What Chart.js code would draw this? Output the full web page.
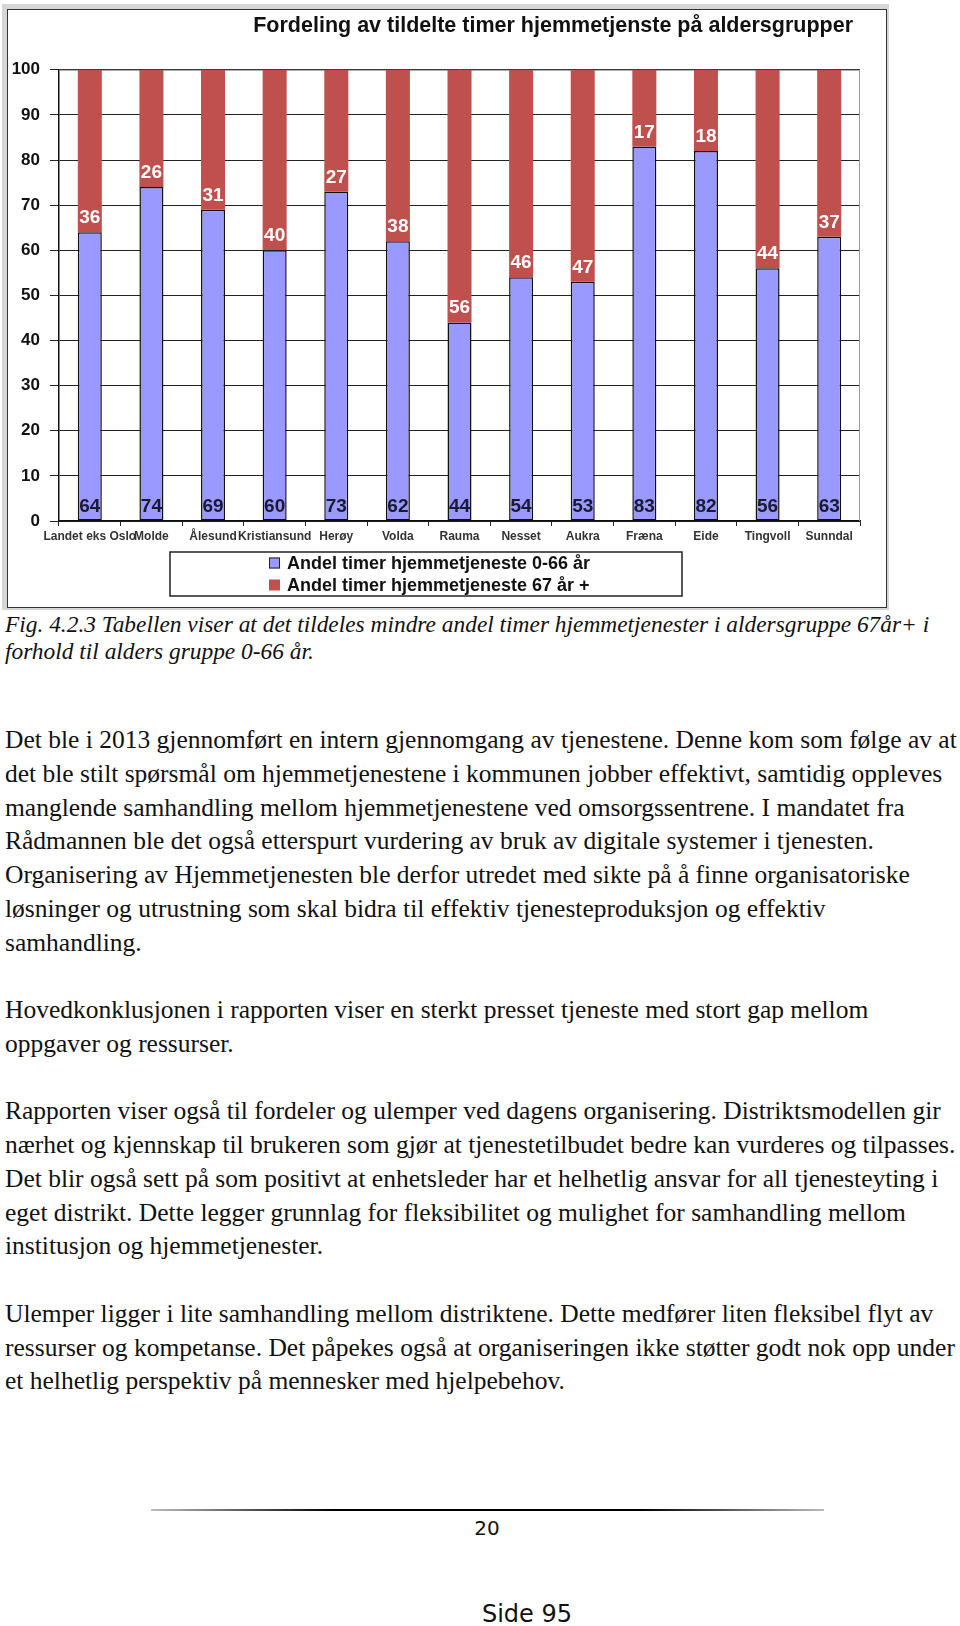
<!DOCTYPE html>
<html lang="no">
<head>
<meta charset="utf-8">
<title>Fordeling av tildelte timer hjemmetjenste på aldersgrupper</title>
<script src="https://cdn.jsdelivr.net/npm/chart.js@4.4.0/dist/chart.umd.min.js"></script>
<style>
    body { margin: 0; background: #fff; width: 960px; height: 1626px; position: relative; overflow: hidden; }
    #frame { position: absolute; left: 2px; top: 4px; width: 887px; height: 606px; background: #d6d6d6; }
    #box { position: absolute; left: 5px; top: 5px; width: 878px; height: 597px; border: 1px solid #333; background: #fff; }
    #box canvas { display: block; }
    .caption { position: absolute; left: 5px; top: 611px; font: italic 23.4px "Liberation Serif", serif; line-height: 27px; white-space: nowrap; color: #111; }
    .text { position: absolute; left: 5px; top: 723px; font: 25.5px "Liberation Serif", serif; line-height: 33.75px; white-space: nowrap; color: #111; }
    .rule { position: absolute; left: 151px; top: 1509px; width: 673px; height: 2px; background: linear-gradient(to right, #bbb, #000 27%, #000 73%, #bbb); }
    .pageno { position: absolute; left: 437px; width: 100px; text-align: center; top: 1518px; font: 20px "DejaVu Sans", sans-serif; line-height: 20px; color: #111; }
    .side { position: absolute; left: 427px; width: 200px; text-align: center; top: 1602px; font: 24px "DejaVu Sans", sans-serif; line-height: 24px; color: #111; }
</style>
</head>
<body>
<div id="frame"><div id="box"><canvas id="barChart" width="878" height="597"></canvas></div></div>

<div class="caption">Fig. 4.2.3 Tabellen viser at det tildeles mindre andel timer hjemmetjenester i aldersgruppe 67år+ i<br>forhold til alders gruppe 0-66 år.</div>

<div class="text">Det ble i 2013 gjennomført en intern gjennomgang av tjenestene. Denne kom som følge av at<br>det ble stilt spørsmål om hjemmetjenestene i kommunen jobber effektivt, samtidig oppleves<br>manglende samhandling mellom hjemmetjenestene ved omsorgssentrene. I mandatet fra<br>Rådmannen ble det også etterspurt vurdering av bruk av digitale systemer i tjenesten.<br>Organisering av Hjemmetjenesten ble derfor utredet med sikte på å finne organisatoriske<br>løsninger og utrustning som skal bidra til effektiv tjenesteproduksjon og effektiv<br>samhandling.<br><br>Hovedkonklusjonen i rapporten viser en sterkt presset tjeneste med stort gap mellom<br>oppgaver og ressurser.<br><br>Rapporten viser også til fordeler og ulemper ved dagens organisering. Distriktsmodellen gir<br>nærhet og kjennskap til brukeren som gjør at tjenestetilbudet bedre kan vurderes og tilpasses.<br>Det blir også sett på som positivt at enhetsleder har et helhetlig ansvar for all tjenesteyting i<br>eget distrikt. Dette legger grunnlag for fleksibilitet og mulighet for samhandling mellom<br>institusjon og hjemmetjenester.<br><br>Ulemper ligger i lite samhandling mellom distriktene. Dette medfører liten fleksibel flyt av<br>ressurser og kompetanse. Det påpekes også at organiseringen ikke støtter godt nok opp under<br>et helhetlig perspektiv på mennesker med hjelpebehov.</div>

<div class="rule"></div>
<div class="pageno">20</div>
<div class="side">Side 95</div>

<script>
const categories = [
    "Landet eks Oslo", "Molde", "Ålesund", "Kristiansund", "Herøy", "Volda", "Rauma",
    "Nesset", "Aukra", "Fræna", "Eide", "Tingvoll", "Sunndal"
];
const young = [64, 74, 69, 60, 73, 62, 44, 54, 53, 83, 82, 56, 63];
const old = [36, 26, 31, 40, 27, 38, 56, 46, 47, 17, 18, 44, 37];
const seriesNames = ["Andel timer hjemmetjeneste 0-66 år", "Andel timer hjemmetjeneste 67 år +"];
const seriesColors = ["#9999ff", "#c0504d"];
const labelColors = ["#1a1a33", "#ffffff"];
const chartTitle = "Fordeling av tildelte timer hjemmetjenste på aldersgrupper";

const sans = '"Liberation Sans", Arial, sans-serif';

// value labels at the foot of each segment
const barLabels = {
    id: 'barLabels',
    afterDatasetsDraw(chart) {
        const ctx = chart.ctx;
        ctx.save();
        ctx.font = 'bold 19px ' + sans;
        ctx.textAlign = 'center';
        ctx.textBaseline = 'alphabetic';
        chart.data.datasets.forEach((ds, i) => {
            chart.getDatasetMeta(i).data.forEach((bar, j) => {
                ctx.fillStyle = labelColors[i];
                ctx.fillText(ds.data[j], bar.x, bar.base - 9);
            });
        });
        ctx.restore();
    }
};

// grey top / right edge of the plot, title pulled a little in from the right
const plotEdge = {
    id: 'plotEdge',
    afterLayout(chart) {
        if (chart.titleBlock) chart.titleBlock.right = chart.chartArea.right - 7;
    },
    beforeDatasetsDraw(chart) {
        const a = chart.chartArea;
        const ctx = chart.ctx;
        ctx.save();
        ctx.strokeStyle = '#9a9a9a';
        ctx.lineWidth = 1;
        ctx.beginPath();
        ctx.moveTo(a.left + 1, a.top + 0.5);
        ctx.lineTo(a.right - 0.5, a.top + 0.5);
        ctx.lineTo(a.right - 0.5, a.bottom);
        ctx.stroke();
        ctx.restore();
    }
};

// boxed legend below the axis, one series per row
const boxLegend = {
    id: 'boxLegend',
    afterDraw(chart) {
        const ctx = chart.ctx;
        const top = chart.chartArea.bottom + 31;
        ctx.save();
        ctx.strokeStyle = '#222';
        ctx.lineWidth = 1.5;
        ctx.strokeRect(162, top, 512, 44);
        ctx.font = 'bold 18px ' + sans;
        ctx.textBaseline = 'middle';
        ctx.textAlign = 'left';
        chart.data.datasets.forEach((ds, i) => {
            const y = top + 11 + i * 22;
            ctx.fillStyle = ds.backgroundColor;
            ctx.fillRect(261, y - 5.5, 11, 11);
            if (i === 0) {
                ctx.strokeStyle = '#222';
                ctx.lineWidth = 1;
                ctx.strokeRect(261.5, y - 5, 10, 10);
            }
            ctx.fillStyle = '#111';
            ctx.fillText(ds.label, 279, y + 1);
        });
        ctx.restore();
    }
};

const ctx = document.getElementById('barChart').getContext('2d');
const chart = new Chart(ctx, {
    type: 'bar',
    data: {
        labels: categories,
        datasets: [{
            label: seriesNames[0],
            data: young,
            backgroundColor: seriesColors[0],
            borderColor: '#111',
            borderWidth: 1.5,
            borderSkipped: false
        }, {
            label: seriesNames[1],
            data: old,
            backgroundColor: seriesColors[1],
            borderWidth: 0
        }]
    },
    options: {
        responsive: false,
        animation: false,
        devicePixelRatio: 1,
        layout: { padding: { left: 0, right: 26, top: 0, bottom: 61 } },
        datasets: { bar: { barPercentage: 0.39, categoryPercentage: 1 } },
        plugins: {
            legend: { display: false },
            tooltip: { enabled: false },
            title: {
                display: true,
                text: chartTitle,
                align: 'end',
                color: '#111',
                font: { family: sans, size: 21.5, weight: 'bold' },
                padding: { top: 3, bottom: 31 }
            }
        },
        scales: {
            x: {
                stacked: true,
                afterFit: (scale) => { scale.height = 25; },
                grid: { offset: true, drawOnChartArea: false, drawTicks: true, tickLength: 5, color: '#222' },
                border: { color: '#111', width: 1.5 },
                ticks: {
                    autoSkip: false, maxRotation: 0, minRotation: 0, padding: 3,
                    color: '#333', font: { family: sans, size: 12, weight: 'bold' }
                }
            },
            y: {
                stacked: true,
                min: 0,
                max: 100,
                afterFit: (scale) => { scale.width = 51; },
                grid: { color: '#222', lineWidth: 1, tickLength: 9 },
                border: { color: '#111', width: 1.5 },
                ticks: {
                    stepSize: 10, padding: 10,
                    color: '#111', font: { family: sans, size: 17, weight: 'bold' }
                }
            }
        }
    },
    plugins: [plotEdge, barLabels, boxLegend]
});
</script>
</body>
</html>
